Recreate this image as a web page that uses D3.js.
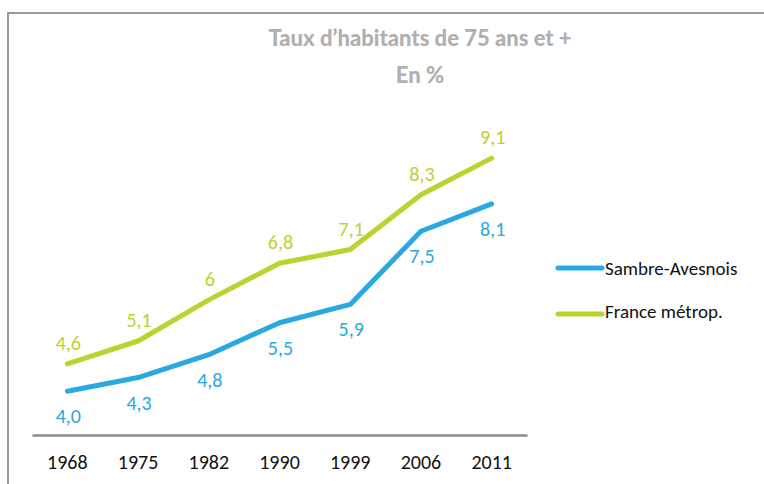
<!DOCTYPE html>
<html>
<head>
<meta charset="utf-8">
<script src="https://cdn.jsdelivr.net/npm/d3@7"></script>
<style>
  body { margin: 0; background: #fff; }
  text { font-family: Carlito, Calibri, Lato, sans-serif; }
</style>
</head>
<body>
<div id="chart"></div>
<script>
var years = ['1968','1975','1982','1990','1999','2006','2011'];
var sambre = [4.0, 4.3, 4.8, 5.5, 5.9, 7.5, 8.1];
var france = [4.6, 5.1, 6, 6.8, 7.1, 8.3, 9.1];
var seriesNames = ['Sambre-Avesnois', 'France métrop.'];
var titleLines = ['Taux d\u2019habitants de 75 ans et +', 'En %'];

const width = 764, height = 484;
const blue = '#29a9df', green = '#bcd231';

const svg = d3.select('#chart').append('svg')
  .attr('width', width)
  .attr('height', height);

// frame (only top and left visible)
svg.append('rect')
  .attr('x', 8).attr('y', 13)
  .attr('width', 900).attr('height', 600)
  .attr('fill', 'none')
  .attr('stroke', '#9a9a9a')
  .attr('stroke-width', 2);

const xScale = d3.scaleBand()
  .domain(years)
  .range([32, 527]);

const yScale = d3.scaleLinear()
  .domain([3, 10])
  .range([437, 117]);

const xPos = d => xScale(d) + xScale.bandwidth() / 2;

// x axis
const xAxis = svg.append('g')
  .attr('transform', 'translate(0,435)')
  .call(d3.axisBottom(xScale).tickSize(0).tickPadding(20));
xAxis.select('.domain').attr('stroke', '#8a8a8a').attr('stroke-width', 2.5);
xAxis.selectAll('text')
  .attr('font-size', 20)
  .attr('fill', '#111')
  .style('font-family', 'Carlito, Calibri, Lato, sans-serif');

const line = d3.line()
  .x((d, i) => xPos(years[i]))
  .y(d => yScale(d));

const series = [
  {name: seriesNames[0], values: sambre, color: blue, dy: 32},
  {name: seriesNames[1], values: france, color: green, dy: -14}
];

series.forEach(s => {
  svg.append('path')
    .datum(s.values)
    .attr('d', line)
    .attr('fill', 'none')
    .attr('stroke', s.color)
    .attr('stroke-width', 5)
    .attr('stroke-linecap', 'round')
    .attr('stroke-linejoin', 'round');
});

// value labels ("6" is written without decimal in the source)
const fmt = (d, s) => (s.color === green && d % 1 === 0) ? String(d) : d3.format('.1f')(d).replace('.', ',');

series.forEach(s => {
  svg.append('g').selectAll('text')
    .data(s.values)
    .enter()
      .append('text')
      .attr('x', (d, i) => xPos(years[i]) + 1)
      .attr('y', d => yScale(d) + s.dy)
      .attr('text-anchor', 'middle')
      .attr('font-size', 20)
      .attr('fill', s.color)
      .text(d => fmt(d, s));
});

// legend
const legend = svg.append('g').selectAll('g')
  .data(series)
  .enter()
    .append('g')
    .attr('transform', (d, i) => 'translate(558,' + (268 + i * 46) + ')');
legend.append('line')
  .attr('x1', 0).attr('x2', 44)
  .attr('stroke', d => d.color)
  .attr('stroke-width', 5)
  .attr('stroke-linecap', 'round');
legend.append('text')
  .attr('x', 47)
  .attr('y', (d, i) => i ? 4 : 7)
  .attr('font-size', 19)
  .attr('fill', '#111')
  .text(d => d.name);

// title
svg.append('g').selectAll('text')
  .data(titleLines)
  .enter()
    .append('text')
    .attr('x', 420)
    .attr('y', (d, i) => 46 + i * 37)
    .attr('text-anchor', 'middle')
    .attr('font-size', 22)
    .attr('font-weight', 900)
    .attr('fill', '#b0b0b0')
    .style('font-family', 'Lato, sans-serif')
    .text(d => d);
</script>
</body>
</html>
